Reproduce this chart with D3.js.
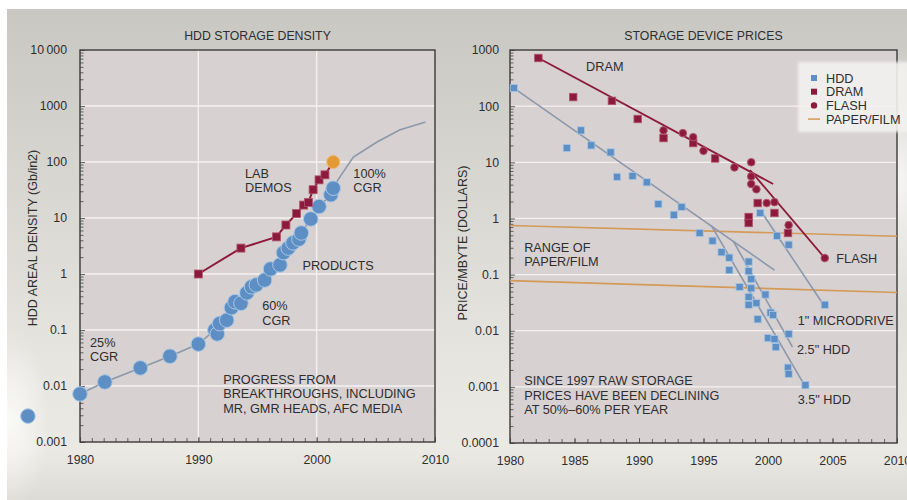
<!DOCTYPE html>
<html>
<head>
<meta charset="utf-8">
<script src="https://cdn.jsdelivr.net/npm/d3@7"></script>
<style>
  body { margin: 0; background: #fff; }
  svg { display: block; font-family: "Liberation Sans", Arial, sans-serif; }
</style>
</head>
<body>
<div id="chart"></div>
<script>

// ---------- HDD storage density (left panel) ----------
const densityTicks = [0.001, 0.01, 0.1, 1, 10, 100, 1000, 10000];
const densityTickLabels = ["0.001", "0.01", "0.1", "1", "10", "100", "1000", "10\u2009000"];
const densityYearTicks = [1980, 1990, 2000, 2010];

// blue circles = products  [year, Gb/in2]
const products = [
  [1980, 0.0072], [1982.1, 0.0118], [1985.1, 0.021], [1987.6, 0.034], [1990, 0.056],
  [1991.4, 0.1], [1991.6, 0.085], [1991.8, 0.13], [1992.4, 0.15], [1992.8, 0.25],
  [1993.1, 0.32], [1993.6, 0.3], [1994.1, 0.46], [1994.5, 0.59], [1994.9, 0.64],
  [1995.6, 0.78], [1996.1, 1.23], [1996.9, 1.45], [1997.2, 2.4], [1997.6, 2.9],
  [1998.0, 3.6], [1998.5, 4.2], [1998.7, 5.4], [1999.5, 9.6], [2000.2, 16],
  [2001.2, 26], [2001.4, 34]
];
const productsEarly = [[1975.6, 0.0029]];
const productsOutlook = [[2001.4, 34], [2001.8, 48], [2003.1, 123], [2005.1, 228], [2007.0, 373], [2009.2, 517]];

// red squares = lab demos
const labDemos = [
  [1990, 1.0], [1993.6, 2.9], [1996.6, 4.6], [1997.4, 7.5], [1998.3, 12],
  [1998.9, 17], [1999.3, 19], [1999.7, 32], [2000.2, 48], [2000.7, 59]
];
const labDemoLatest = [[2001.4, 100]];

// ---------- storage device prices (right panel) ----------
const priceTicks = [0.0001, 0.001, 0.01, 0.1, 1, 10, 100, 1000];
const priceTickLabels = ["0.0001", "0.001", "0.01", "0.1", "1", "10", "100", "1000"];
const priceYearTicks = [1980, 1985, 1990, 1995, 2000, 2005, 2010];

// [year, $ per MByte]
const hddPrices = [
  [1980.3, 210], [1984.4, 18], [1985.5, 37], [1986.3, 20], [1987.8, 15], [1988.3, 5.5],
  [1989.5, 5.7], [1990.6, 4.4], [1991.5, 1.8], [1992.7, 1.16], [1993.3, 1.6], [1994.7, 0.55],
  [1995.7, 0.4], [1996.4, 0.25], [1997.0, 0.2], [1997.0, 0.12], [1997.8, 0.06], [1998.5, 0.17],
  [1998.5, 0.115], [1998.7, 0.083], [1998.7, 0.057], [1998.5, 0.04], [1998.5, 0.029],
  [1999.1, 0.031], [1999.2, 0.016], [1999.8, 0.044], [2000.2, 0.021], [2000.4, 0.019],
  [2000.0, 0.0074], [2000.5, 0.0071], [2000.6, 0.0051], [2001.6, 0.0087], [2001.55, 0.0022],
  [2001.6, 0.0017], [2002.9, 0.00107], [2004.4, 0.029], [1999.4, 1.25], [2000.7, 0.49],
  [2001.6, 0.34]
];
const dramPrices = [
  [1982.2, 720], [1984.9, 145], [1987.9, 124], [1989.9, 59], [1991.9, 27], [1994.2, 22],
  [1995.9, 11.7], [1999.2, 1.88], [1998.5, 1.06], [1998.5, 0.83], [2000.5, 1.25], [2001.55, 0.55]
];
const flashPrices = [
  [1991.9, 37], [1993.4, 33], [1994.2, 28], [1995.0, 16], [1997.4, 8.1], [1998.7, 10],
  [1998.7, 5.6], [1998.7, 4.1], [1999.1, 3.3], [1999.9, 1.88], [2000.5, 1.95], [2001.6, 0.76],
  [2004.4, 0.197]
];
const hddTrend = [[1980.3, 210], [2000.5, 0.12]];
const hdd35Trend = [[1995.6, 0.75], [2002.7, 0.0012]];
const hdd25Trend = [[1997.3, 0.4], [2001.9, 0.0051]];
const microdriveTrend = [[1999.5, 1.3], [2004.3, 0.029]];
const dramTrend = [[1982.2, 720], [2000.4, 4.1]];
const flashTrend = [[1998.6, 7.3], [2004.4, 0.197]];
const paperHigh = [[1980, 0.75], [2010, 0.48]];
const paperLow = [[1980, 0.078], [2010, 0.048]];

const legendItems = ["HDD", "DRAM", "FLASH", "PAPER/FILM"];

// ---------- colours ----------
const plotBg = "#d8d1d1";
const frameColor = "#3c3a3a";
const textColor = "#2e2e2e";
const blue = "#5d8fc5";
const blueEdge = "#a8c6e4";
const red = "#8c1a3c";
const greyLine = "#8b98ab";
const paperColor = "#d39a58";
const orange = "#e39a35";

const W = 907, H = 500;

const svg = d3.select("#chart").append("svg")
    .attr("width", W)
    .attr("height", H);

// background
const defs = svg.append("defs");
const bgGrad = defs.append("linearGradient")
    .attr("id", "bgGrad").attr("x1", 0).attr("x2", 0).attr("y1", 0).attr("y2", 1);
[[0, "#c9c7c2"], [0.35, "#d7d6d1"], [0.72, "#e6e5e0"], [0.9, "#eae9e4"], [1, "#dcdbd5"]]
    .forEach(s => bgGrad.append("stop").attr("offset", s[0]).attr("stop-color", s[1]));
const glow = defs.append("radialGradient").attr("id", "glow");
glow.append("stop").attr("offset", 0).attr("stop-color", "#fff").attr("stop-opacity", 0.75);
glow.append("stop").attr("offset", 1).attr("stop-color", "#fff").attr("stop-opacity", 0);
defs.append("filter").attr("id", "soft")
    .attr("x", "-10%").attr("y", "-10%").attr("width", "120%").attr("height", "120%")
    .append("feGaussianBlur").attr("stdDeviation", 1.5);

svg.append("rect").attr("x", 7).attr("y", 9).attr("width", W - 7).attr("height", H - 9)
    .attr("fill", "url(#bgGrad)");
svg.append("ellipse").attr("cx", 900).attr("cy", 180).attr("rx", 60).attr("ry", 130)
    .attr("fill", "url(#glow)");
svg.append("ellipse").attr("cx", 10).attr("cy", 420).attr("rx", 40).attr("ry", 90)
    .attr("fill", "url(#glow)");

const line = (x, y) => d3.line().x(d => x(d[0])).y(d => y(d[1]));

function logMinors(lo, hi) {
    let out = [];
    for (let p = Math.log10(lo); p < Math.log10(hi); p++) {
        for (let k = 2; k <= 9; k++) out.push(k * Math.pow(10, p));
    }
    return out;
}

function drawPanel(o) {
    let p = {};
    p.x = d3.scaleLinear().domain([1980, 2010]).range([o.left, o.right]);
    p.y = d3.scaleLog().domain([o.ticks[0], o.ticks[o.ticks.length - 1]]).range([o.bottom, o.top]);
    p.g = svg.append("g");

    p.g.append("rect")
        .attr("x", o.left).attr("y", o.top)
        .attr("width", o.right - o.left).attr("height", o.bottom - o.top)
        .attr("fill", plotBg);

    // white grid
    p.g.selectAll(".hgrid")
        .data(o.ticks.slice(1, -1))
        .join("line")
        .attr("x1", o.left).attr("x2", o.right)
        .attr("y1", d => p.y(d)).attr("y2", d => p.y(d))
        .attr("stroke", "#f4f2f0").attr("stroke-width", 1.3);
    p.g.selectAll(".vgrid")
        .data(o.vgrid)
        .join("line")
        .attr("y1", o.top).attr("y2", o.bottom)
        .attr("x1", d => p.x(d)).attr("x2", d => p.x(d))
        .attr("stroke", "#f4f2f0").attr("stroke-width", 1.3);

    // axes (ticks point inward)
    let yAxis = d3.axisLeft(p.y).tickValues(o.ticks)
        .tickFormat((d, i) => o.tickLabels[i]).tickSize(-5).tickPadding(o.yPad);
    let yMinor = d3.axisLeft(p.y).tickValues(logMinors(o.ticks[0], o.ticks[o.ticks.length - 1]))
        .tickFormat("").tickSize(-3.5);
    let xAxis = d3.axisBottom(p.x).tickValues(o.yearTicks)
        .tickFormat(d3.format("d")).tickSize(-5).tickPadding(13);
    let xMinor = d3.axisBottom(p.x).tickValues(d3.range(1981, 2010))
        .tickFormat("").tickSize(-4);

    [[yAxis, "translate(" + o.left + ",0)"], [yMinor, "translate(" + o.left + ",0)"],
     [xAxis, "translate(0," + o.bottom + ")"], [xMinor, "translate(0," + o.bottom + ")"]]
        .forEach(a => {
            let ag = p.g.append("g").attr("transform", a[1]).call(a[0]);
            ag.select(".domain").remove();
            ag.selectAll("line").attr("stroke", "#555").attr("stroke-width", 0.9);
            ag.selectAll("text").attr("fill", textColor).style("font-size", "12.3px")
                .style("font-family", "'Liberation Sans', Arial, sans-serif");
        });

    // frame
    p.g.append("rect")
        .attr("x", o.left).attr("y", o.top)
        .attr("width", o.right - o.left).attr("height", o.bottom - o.top)
        .attr("fill", "none").attr("stroke", frameColor).attr("stroke-width", 1.4);

    // titles
    svg.append("text")
        .attr("x", (o.left + o.right) / 2).attr("y", 40)
        .attr("text-anchor", "middle").attr("fill", textColor)
        .style("font-size", "12.3px")
        .text(o.title);
    svg.append("text")
        .attr("transform", "translate(" + o.yLabelX + "," + o.yLabelY + ") rotate(-90)")
        .attr("text-anchor", "middle").attr("fill", textColor)
        .style("font-size", "12.5px")
        .text(o.yLabel);
    return p;
}

function note(p, yr, val, lines, anchor) {
    let t = svg.append("text")
        .attr("x", p.x(yr)).attr("y", p.y(val))
        .attr("text-anchor", anchor || "start")
        .attr("fill", textColor)
        .style("font-size", "12.7px");
    lines.forEach((s, i) => {
        t.append("tspan").attr("x", p.x(yr)).attr("dy", i === 0 ? "0.36em" : "1.15em").text(s);
    });
}

function squares(p, data, size, fill, edge) {
    p.g.append("g").selectAll("rect")
        .data(data)
        .join("rect")
        .attr("x", d => p.x(d[0]) - size / 2)
        .attr("y", d => p.y(d[1]) - size / 2)
        .attr("width", size).attr("height", size)
        .attr("fill", fill)
        .attr("stroke", edge).attr("stroke-width", 0.8);
}

function dots(p, data, r, fill, edge) {
    p.g.append("g").selectAll("circle")
        .data(data)
        .join("circle")
        .attr("cx", d => p.x(d[0]))
        .attr("cy", d => p.y(d[1]))
        .attr("r", r)
        .attr("fill", fill)
        .attr("stroke", edge).attr("stroke-width", 1);
}

function trend(p, data, color, width) {
    p.g.append("path")
        .datum(data)
        .attr("d", line(p.x, p.y))
        .attr("fill", "none")
        .attr("stroke", color)
        .attr("stroke-width", width);
}

// ---------- left panel ----------
const left = drawPanel({
    left: 80, right: 435, top: 50, bottom: 442,
    ticks: densityTicks, tickLabels: densityTickLabels, yearTicks: densityYearTicks,
    vgrid: [1990, 2000], yPad: 13,
    title: "HDD STORAGE DENSITY", yLabel: "HDD AREAL DENSITY (Gb/in2)", yLabelX: 37, yLabelY: 238
});

trend(left, products, greyLine, 1.6);
trend(left, productsOutlook, greyLine, 1.6);
trend(left, labDemos.concat(labDemoLatest), red, 2);
dots(left, products, 7.3, blue, blueEdge);
dots(left, productsEarly, 7.3, blue, blueEdge);
squares(left, labDemos, 8, red, "#b05670");
dots(left, labDemoLatest, 6.5, orange, "#f0b870");

note(left, 1993.95, 63, ["LAB", "DEMOS"]);
note(left, 2003.1, 63, ["100%", "CGR"]);
note(left, 1998.8, 1.44, ["PRODUCTS"]);
note(left, 1995.4, 0.27, ["60%", "CGR"]);
note(left, 1980.85, 0.061, ["25%", "CGR"]);
note(left, 1992.1, 0.0133, ["PROGRESS FROM", "BREAKTHROUGHS, INCLUDING", "MR, GMR HEADS, AFC MEDIA"]);

// ---------- right panel ----------
const right = drawPanel({
    left: 510, right: 897, top: 50, bottom: 443,
    ticks: priceTicks, tickLabels: priceTickLabels, yearTicks: priceYearTicks,
    vgrid: [], yPad: 11,
    title: "STORAGE DEVICE PRICES", yLabel: "PRICE/MBYTE (DOLLARS)", yLabelX: 467, yLabelY: 243
});

trend(right, paperHigh, paperColor, 1.6);
trend(right, paperLow, paperColor, 1.6);
trend(right, hddTrend, greyLine, 1.6);
trend(right, hdd35Trend, greyLine, 1.6);
trend(right, hdd25Trend, greyLine, 1.6);
trend(right, microdriveTrend, greyLine, 1.6);
trend(right, dramTrend, red, 1.8);
trend(right, flashTrend, red, 1.8);
squares(right, hddPrices, 7.2, blue, blueEdge);
squares(right, dramPrices, 7.5, red, "#b05670");
dots(right, flashPrices, 3.8, red, "#b05670");

note(right, 1985.9, 519, ["DRAM"]);
note(right, 1981.1, 0.31, ["RANGE OF", "PAPER/FILM"]);
note(right, 2005.3, 0.19, ["FLASH"]);
note(right, 2002.3, 0.0155, ["1\" MICRODRIVE"]);
note(right, 2002.25, 0.0047, ["2.5\" HDD"]);
note(right, 2002.3, 0.0006, ["3.5\" HDD"]);
note(right, 1981.1, 0.0013, ["SINCE 1997 RAW STORAGE", "PRICES HAVE BEEN DECLINING", "AT 50%\u201360% PER YEAR"]);

// legend
const lg = svg.append("g");
lg.append("rect")
    .attr("x", 798).attr("y", 62).attr("width", 120).attr("height", 70)
    .attr("fill", "#f3f2ef").attr("opacity", 0.9)
    .attr("filter", "url(#soft)");
legendItems.forEach((name, i) => {
    let cy = 78 + i * 13.7;
    if (name === "HDD") {
        lg.append("rect").attr("x", 811).attr("y", cy - 3).attr("width", 6).attr("height", 6).attr("fill", blue);
    } else if (name === "DRAM") {
        lg.append("rect").attr("x", 811).attr("y", cy - 3).attr("width", 6).attr("height", 6).attr("fill", red);
    } else if (name === "FLASH") {
        lg.append("circle").attr("cx", 814).attr("cy", cy).attr("r", 3.2).attr("fill", red);
    } else {
        lg.append("line").attr("x1", 808).attr("x2", 820).attr("y1", cy).attr("y2", cy)
            .attr("stroke", paperColor).attr("stroke-width", 1.5);
    }
    lg.append("text")
        .attr("x", 826).attr("y", cy).attr("dy", "0.36em")
        .attr("fill", textColor)
        .style("font-size", "12.7px")
        .text(name);
});

</script>
</body>
</html>
